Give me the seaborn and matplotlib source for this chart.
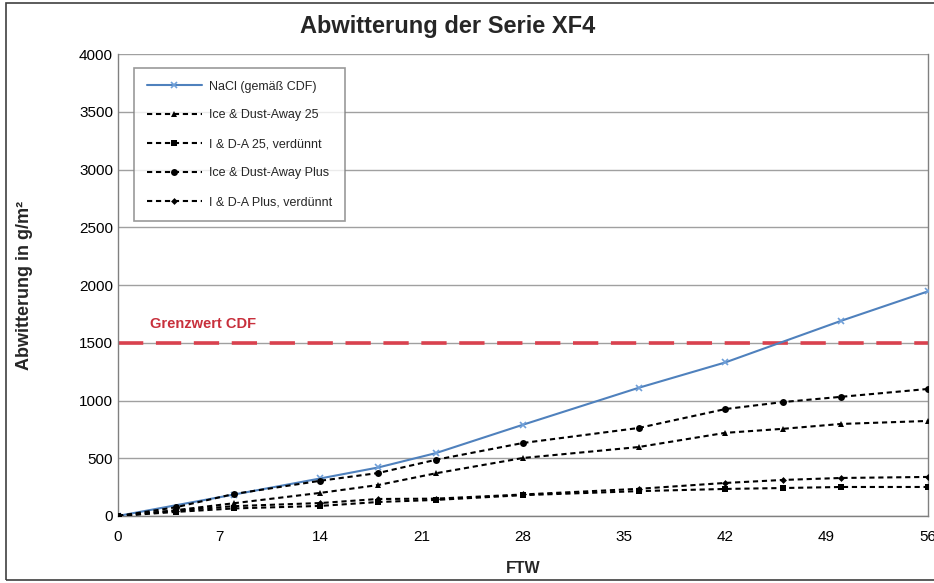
import pandas as pd
import seaborn as sns
import matplotlib.pyplot as plt
from matplotlib.patches import Rectangle

# FTW cycles and scaling (g/m²)
ftw_nacl = [0, 8, 14, 18, 22, 28, 36, 42, 50, 56]
nacl = [0, 185, 325, 420, 545, 790, 1110, 1330, 1690, 1945]

ftw = [0, 4, 8, 14, 18, 22, 28, 36, 42, 46, 50, 56]
ida25 = [0, 50, 110, 200, 268, 370, 502, 597, 720, 755, 797, 823]
ida25_verd = [0, 35, 65, 87, 121, 139, 180, 215, 234, 242, 251, 251]
ida_plus = [0, 75, 190, 305, 372, 487, 632, 762, 926, 987, 1032, 1100]
ida_plus_verd = [0, 45, 85, 112, 147, 150, 186, 235, 286, 312, 329, 338]

grenzwert = 1500

series = [
    ('Ice & Dust-Away 25', ida25, '^', 4),
    ('I & D-A 25, verdünnt', ida25_verd, 's', 4.5),
    ('Ice & Dust-Away Plus', ida_plus, 'o', 5),
    ('I & D-A Plus, verdünnt', ida_plus_verd, 'D', 3.5),
]

sns.set_theme(style='white')
plt.rcParams['font.family'] = ['Liberation Sans', 'DejaVu Sans']

fig = plt.figure(figsize=(9.34, 5.83), dpi=100)
ax = fig.add_axes([0.1263, 0.115, 0.867, 0.792])

ax.axhline(grenzwert, color='#d9414e', lw=2.6, dashes=(7, 3.5), zorder=1)
ax.text(2.2, grenzwert + 100, 'Grenzwert CDF', color='#c8303c', fontsize=10.5,
        fontweight='bold', va='bottom')

sns.lineplot(x=ftw_nacl, y=nacl, ax=ax, color='#4f81bd', lw=1.5, marker='x',
             markersize=4.5, markeredgewidth=1.2, markeredgecolor='#6f9fd8',
             label='NaCl (gemäß CDF)', zorder=3)
ax.lines[-1].set_linestyle('-')
for name, vals, mk, ms in series:
    sns.lineplot(x=ftw, y=vals, ax=ax, color='black', lw=1.5, marker=mk,
                 markersize=ms, markeredgewidth=0, label=name, zorder=4)
    ax.lines[-1].set_dashes((2.5, 1.8))

ax.set_xlim(0, 56)
ax.set_ylim(0, 4000)
ax.set_xticks(range(0, 57, 7))
ax.set_yticks(range(0, 4001, 500))
ax.tick_params(axis='both', labelsize=11, colors='black', length=0)
ax.tick_params(axis='x', direction='out', length=4, width=0.8, color='#808080', pad=6)
ax.yaxis.grid(True, color='#a0a0a0', lw=1)
for s in ax.spines.values():
    s.set_color('#808080')
    s.set_linewidth(1)
ax.spines['top'].set_visible(False)

fig.suptitle('Abwitterung der Serie XF4', x=0.479, y=0.975, fontsize=17,
             fontweight='bold')
ax.set_xlabel('FTW', fontsize=11.5, fontweight='bold', labelpad=12)
ax.set_ylabel('Abwitterung in g/m²', fontsize=13, fontweight='bold', labelpad=33)

for lbl in ax.get_xticklabels():
    lbl.set_clip_on(False)

leg = ax.legend(loc='upper left', bbox_to_anchor=(0.02, 0.97), fontsize=9,
                frameon=True, fancybox=False, edgecolor='#808080',
                labelspacing=1.35, handlelength=4.4, handletextpad=0.6,
                borderpad=1.0, borderaxespad=0)
leg.get_frame().set_linewidth(1.2)
leg.set_zorder(10)

fig.patches.append(Rectangle((0.006, 0.006), 1.1, 0.988, transform=fig.transFigure,
                             fill=False, edgecolor='#404040', lw=1.2))

fig.savefig('out.png', dpi=100)
